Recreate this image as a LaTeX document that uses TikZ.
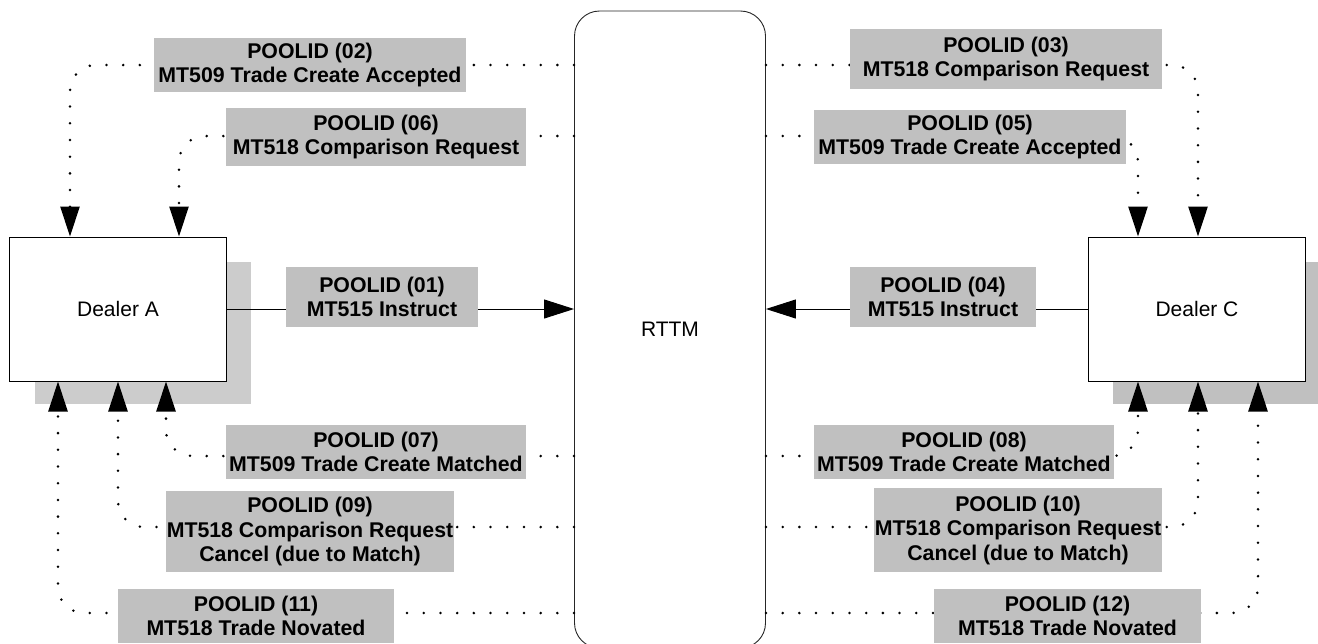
\documentclass[tikz,border=0pt]{standalone}
\usepackage{fontspec}
\setmainfont{Liberation Sans}
\usetikzlibrary{arrows.meta}
\definecolor{lblgray}{HTML}{C0C0C0}
\definecolor{shadowA}{HTML}{CCCCCC}
\definecolor{shadowC}{HTML}{C0C0C0}
\begin{document}
\begin{tikzpicture}[x=1pt,y=-1pt,
  box/.style={draw=black, line width=1pt, fill=white, rectangle, inner sep=0pt, font=\fontsize{21}{24}\selectfont},
  lbl/.style={fill=lblgray, inner sep=0pt, align=center, font=\fontsize{21.3}{24.5}\selectfont\bfseries},
  dotconn/.style={line width=2.8pt, line cap=round, dash pattern=on 0pt off 16.7pt, rounded corners=26pt, -{Triangle[length=30pt,width=19pt]}},
  solidconn/.style={line width=1pt, -{Triangle[length=30pt,width=19pt]}}
]
\clip (0,0) rectangle (1318,643);
% shadows
\fill[shadowA] (35,262) rectangle (251,404);
\fill[shadowC] (1113,262) rectangle (1330,404);
% main nodes
\node[box, minimum width=217pt, minimum height=144pt] (dealerA) at (118,309) {Dealer A};
\node[box, minimum width=217pt, minimum height=144pt] (dealerC) at (1197,309) {Dealer C};
\node[box, draw=black!85, line width=0.9pt, rounded corners=25pt, minimum width=191pt, minimum height=637pt] (rttm) at (670,329.5) {RTTM};
% dotted connectors
\draw[dotconn] (rttm.west |- 0,65)  -| (70,0 |- dealerA.north);
\draw[dotconn] (rttm.west |- 0,136) -| (179,0 |- dealerA.north);
\draw[dotconn] (rttm.east |- 0,65)  -| (1198,0 |- dealerC.north);
\draw[dotconn] (rttm.east |- 0,136) -| (1138,0 |- dealerC.north);
\draw[dotconn] (rttm.west |- 0,456) -| (166,0 |- dealerA.south);
\draw[dotconn] (rttm.west |- 0,527) -| (118,0 |- dealerA.south);
\draw[dotconn] (rttm.west |- 0,613) -| (58,0 |- dealerA.south);
\draw[dotconn] (rttm.east |- 0,456) -| (1138,0 |- dealerC.south);
\draw[dotconn] (rttm.east |- 0,527) -| (1198,0 |- dealerC.south);
\draw[dotconn] (rttm.east |- 0,613) -| (1258,0 |- dealerC.south);
% solid connectors
\draw[solidconn] (dealerA.east) -- (rttm.west |- dealerA.east);
\draw[solidconn] (dealerC.west) -- (rttm.east |- dealerC.west);
% labels
\node[lbl, minimum width=312pt, minimum height=54pt] (l02) at (310,65) {POOLID (02)\\MT509 Trade Create Accepted};
\node[lbl, minimum width=300pt, minimum height=58pt] (l06) at (376,137) {POOLID (06)\\MT518 Comparison Request};
\node[lbl, minimum width=192pt, minimum height=60pt] (l01) at (382,297) {POOLID (01)\\MT515 Instruct};
\node[lbl, minimum width=312pt, minimum height=60pt] (l03) at (1006,59) {POOLID (03)\\MT518 Comparison Request};
\node[lbl, minimum width=312pt, minimum height=54pt] (l05) at (970,137) {POOLID (05)\\MT509 Trade Create Accepted};
\node[lbl, minimum width=186pt, minimum height=60pt] (l04) at (943,297) {POOLID (04)\\MT515 Instruct};
\node[lbl, minimum width=300pt, minimum height=54pt] (l07) at (376,452) {POOLID (07)\\MT509 Trade Create Matched};
\node[lbl, minimum width=288pt, minimum height=81pt] (l09) at (310,531.5) {POOLID (09)\\MT518 Comparison Request\\Cancel (due to Match)};
\node[lbl, minimum width=276pt, minimum height=54pt] (l11) at (256,616) {POOLID (11)\\MT518 Trade Novated};
\node[lbl, minimum width=300pt, minimum height=54pt] (l08) at (964,452) {POOLID (08)\\MT509 Trade Create Matched};
\node[lbl, minimum width=288pt, minimum height=84pt] (l10) at (1018,530) {POOLID (10)\\MT518 Comparison Request\\Cancel (due to Match)};
\node[lbl, minimum width=267pt, minimum height=54pt] (l12) at (1067.5,616) {POOLID (12)\\MT518 Trade Novated};
\end{tikzpicture}
\end{document}
